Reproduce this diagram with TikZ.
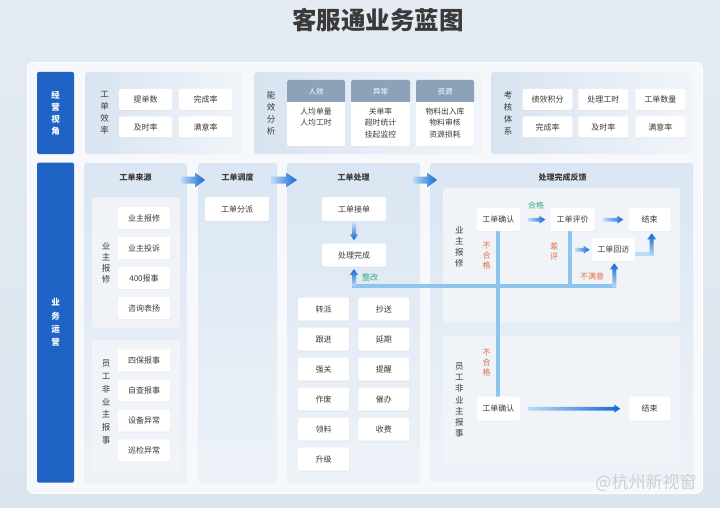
\documentclass[tikz,border=0pt]{standalone}
\usepackage{fontspec}
\setmainfont{Noto Sans CJK SC}
\usetikzlibrary{shadows,calc}
\definecolor{bgc}{HTML}{DCE5EE}
\definecolor{bgt}{HTML}{E4EBF2}
\definecolor{panel}{HTML}{F6F8FB}
\definecolor{hblue}{HTML}{1F64C4}
\definecolor{txt}{HTML}{3A3A3A}
\definecolor{pL}{HTML}{D8E3F1}
\definecolor{pR}{HTML}{F1F5FA}
\definecolor{colT}{HTML}{DAE6F3}
\definecolor{colB}{HTML}{EDF2F8}
\definecolor{subc}{HTML}{F0F4F9}
\definecolor{ghdr}{HTML}{8DA1B9}
\definecolor{okc}{HTML}{35A98A}
\definecolor{badc}{HTML}{E2703C}
\definecolor{conn}{HTML}{8FC4EE}
\definecolor{connL}{HTML}{BBDCF5}
\definecolor{arL}{HTML}{BBDCF6}
\definecolor{arD}{HTML}{1466D2}
\definecolor{wm}{HTML}{CFCFCF}

\newcommand\arrR[5]{%
 \shade[left color=arL, right color=arD] let \p1=#1, \p2=#2 in
 (\x1,\y1+#3) -- (\x2-#5,\y1+#3) -- (\x2-#5,\y1+#4) -- (\x2,\y1) -- (\x2-#5,\y1-#4) -- (\x2-#5,\y1-#3) -- (\x1,\y1-#3) -- cycle;}
\newcommand\arrU[5]{%
 \shade[bottom color=arL, top color=arD] let \p1=#1, \p2=#2 in
 (\x1-#3,\y1) -- (\x1-#3,\y2-#5) -- (\x1-#4,\y2-#5) -- (\x1,\y2) -- (\x1+#4,\y2-#5) -- (\x1+#3,\y2-#5) -- (\x1+#3,\y1) -- cycle;}
\newcommand\arrD[5]{%
 \shade[top color=arL, bottom color=arD] let \p1=#1, \p2=#2 in
 (\x1-#3,\y1) -- (\x1-#3,\y2+#5) -- (\x1-#4,\y2+#5) -- (\x1,\y2) -- (\x1+#4,\y2+#5) -- (\x1+#3,\y2+#5) -- (\x1+#3,\y1) -- cycle;}

\begin{document}
\begin{tikzpicture}[x=1pt,y=-1pt,
  sz/.style 2 args={minimum width=#1, minimum height=#2},
  wbox/.style={fill=white, rounded corners=2pt, text=txt, inner sep=0pt,
    font=\fontsize{8}{9.5}\selectfont,
    drop shadow={opacity=0.07, shadow xshift=0.4pt, shadow yshift=-0.8pt}},
  bluehdr/.style={fill=hblue, rounded corners=1.5pt, text=white, inner sep=0pt, align=center},
  vlab/.style={align=center, text=txt, inner sep=0pt},
  ctitle/.style={text=txt, font=\fontsize{8}{9.5}\selectfont\bfseries, inner sep=0pt},
  connline/.style={draw=conn, line width=4pt},
  ghead/.style={fill=ghdr},
]
\useasboundingbox (0,0) rectangle (720,508);
\shade[top color=bgt, bottom color=bgc] (0,0) rectangle (720,508);

% title
\node[text=txt, font=\fontsize{24.5}{28}\selectfont\bfseries, inner sep=0pt] (title) at (378,20) {客服通业务蓝图};

% white panel
\node[fill=panel, rounded corners=6pt, draw=white, line width=0.8pt, anchor=north west, sz={675pt}{431pt}] (main) at (27,62) {};

% ---------- top section ----------
\node[bluehdr, sz={37pt}{82pt}, font=\fontsize{8.5}{12}\selectfont\bfseries] (h1) at (55.5,113) {经\\营\\视\\角};

\shade[left color=pL, right color=pR, rounded corners=3pt] (85,72) rectangle (242,154);
\node[vlab, font=\fontsize{8.5}{12}\selectfont] (l1) at (104.7,113) {工\\单\\效\\率};
\node[wbox, sz={53pt}{21pt}] (tds) at (145.5,99.5) {提单数};
\node[wbox, sz={53pt}{21pt}] (wcl) at (205.5,99.5) {完成率};
\node[wbox, sz={53pt}{21pt}] (jsl) at (145.5,127) {及时率};
\node[wbox, sz={53pt}{21pt}] (myl) at (205.5,127) {满意率};

\shade[left color=pL, right color=pR, rounded corners=3pt] (254,72) rectangle (481,154);
\node[vlab, font=\fontsize{8.5}{12}\selectfont] (l2) at (271,113) {能\\效\\分\\析};
% sub cards
\foreach \cx/\w/\nm/\hd in {316/58/rx/人效, 380.5/59/yc/异常, 445/58/zy/资源}{
  \node[wbox, sz={\w pt}{66pt}, anchor=north] (\nm) at (\cx,80) {};
  \fill[ghead] (\cx-\w/2,102) [rounded corners=2pt] -- (\cx-\w/2,80) -- (\cx+\w/2,80) [sharp corners] -- (\cx+\w/2,102) -- cycle;
  \node[text=white, font=\fontsize{7.5}{9}\selectfont, inner sep=0pt] (\nm h) at (\cx,91.5) {\hd};
}
\node[vlab, font=\fontsize{7.8}{11.5}\selectfont, anchor=north] (rxt) at (316,107.5) {人均单量\\人均工时};
\node[vlab, font=\fontsize{7.8}{11.5}\selectfont, anchor=north] (yct) at (380.5,107.5) {关单率\\超时统计\\挂起监控};
\node[vlab, font=\fontsize{7.8}{11.5}\selectfont, anchor=north] (zyt) at (445,107.5) {物料出入库\\物料审核\\资源损耗};

\shade[left color=pL, right color=pR, rounded corners=3pt] (491,72) rectangle (692,154);
\node[vlab, font=\fontsize{8.5}{12}\selectfont] (l3) at (508,113) {考\\核\\体\\系};
\node[wbox, sz={50pt}{21pt}] (jxjf) at (547.5,99.5) {绩效积分};
\node[wbox, sz={50pt}{21pt}] (clgs) at (603.3,99.5) {处理工时};
\node[wbox, sz={50pt}{21pt}] (gdsl) at (660.3,99.5) {工单数量};
\node[wbox, sz={50pt}{21pt}] (wcl2) at (547.5,127) {完成率};
\node[wbox, sz={50pt}{21pt}] (jsl2) at (603.3,127) {及时率};
\node[wbox, sz={50pt}{21pt}] (myl2) at (660.3,127) {满意率};

% ---------- bottom section ----------
\node[bluehdr, sz={37pt}{320pt}, font=\fontsize{8.5}{13.3}\selectfont\bfseries] (h2) at (55.5,322.7) {业\\务\\运\\营};

% columns
\shade[top color=colT, bottom color=colB, rounded corners=3pt] (84,163) rectangle (187,483);
\shade[top color=colT, bottom color=colB, rounded corners=3pt] (198,163) rectangle (277,483);
\shade[top color=colT, bottom color=colB, rounded corners=3pt] (287,163) rectangle (420,483);
\shade[top color=colT, bottom color=colB, rounded corners=3pt] (430,163) rectangle (693,482);

\node[ctitle] (t1) at (135.5,177) {工单来源};
\node[ctitle] (t2) at (237.5,177) {工单调度};
\node[ctitle] (t3) at (353.5,177) {工单处理};
\node[ctitle] (t4) at (562.7,177) {处理完成反馈};

% column 1
\fill[subc, rounded corners=3pt] (92,197) rectangle (180,328);
\node[vlab, font=\fontsize{8.5}{11}\selectfont] (l4) at (106,263) {业\\主\\报\\修};
\node[wbox, sz={52pt}{22pt}] (s1) at (144,218) {业主报修};
\node[wbox, sz={52pt}{22pt}] (s2) at (144,248) {业主投诉};
\node[wbox, sz={52pt}{22pt}] (s3) at (144,278) {400报事};
\node[wbox, sz={52pt}{22pt}] (s4) at (144,308) {咨询表扬};

\fill[subc, rounded corners=3pt] (92,340) rectangle (180,472);
\node[vlab, font=\fontsize{8.5}{12.8}\selectfont] (l5) at (106,402) {员\\工\\非\\业\\主\\报\\事};
\node[wbox, sz={52pt}{22pt}] (s5) at (144,360.5) {四保报事};
\node[wbox, sz={52pt}{22pt}] (s6) at (144,390.5) {自查报事};
\node[wbox, sz={52pt}{22pt}] (s7) at (144,420.5) {设备异常};
\node[wbox, sz={52pt}{22pt}] (s8) at (144,450.5) {巡检异常};

% column 2
\node[wbox, sz={64pt}{24pt}] (fp) at (237,209) {工单分派};

% column 3
\node[wbox, sz={64pt}{24pt}] (jd) at (354,209) {工单接单};
\node[wbox, sz={64pt}{23pt}] (wc) at (354,255) {处理完成};
\foreach \r/\a/\b in {309.2/转派/抄送, 339.2/跟进/延期, 369.2/强关/提醒, 399.2/作废/催办, 429.2/领料/收费}{
  \node[wbox, sz={51pt}{23pt}] (g\a) at (323.7,\r) {\a};
  \node[wbox, sz={51pt}{23pt}] (g\b) at (383.8,\r) {\b};
}
\node[wbox, sz={51pt}{23pt}] (gsj) at (323.7,459.2) {升级};

% column 4
\fill[subc, rounded corners=3pt] (443,188) rectangle (680,322);
\fill[subc, rounded corners=3pt] (443,336) rectangle (680,463);
\node[vlab, font=\fontsize{8.5}{11.1}\selectfont] (l6) at (459.3,246.7) {业\\主\\报\\修};
\node[vlab, font=\fontsize{8.5}{11.1}\selectfont] (l7) at (459.3,400) {员\\工\\非\\业\\主\\报\\事};

% connectors (light lines first)
\coordinate (hL) at (354,286);
\coordinate (hR) at (614.3,286);
\draw[connline] (498.3,230) -- (498.3,398);
\draw[connline] (570,230) -- (570,288);
\draw[connline] (352,286) -- (616.3,286);
\draw[draw=connL, line width=4pt] (634,254) -- (653.7,254);

\node[wbox, sz={43pt}{23pt}] (qr1) at (498.3,219.7) {工单确认};
\node[wbox, sz={44pt}{23pt}] (pj) at (572.5,219.7) {工单评价};
\node[wbox, sz={42pt}{23pt}] (js1) at (649.5,219.7) {结束};
\node[wbox, sz={43pt}{23pt}] (hf) at (613.3,249.7) {工单回访};
\node[wbox, sz={43pt}{24pt}] (qr2) at (498.3,408.7) {工单确认};
\node[wbox, sz={42pt}{24pt}] (js2) at (649.5,408.7) {结束};

% labels
\node[text=okc, font=\fontsize{8}{9}\selectfont, inner sep=0pt] (hg) at (536,205.5) {合格};
\node[text=okc, font=\fontsize{8}{9}\selectfont, inner sep=0pt] (zg) at (370,277) {整改};
\node[text=badc, font=\fontsize{8}{9}\selectfont, inner sep=0pt] (bmy) at (592,276) {不满意};
\node[vlab, text=badc, font=\fontsize{8}{10}\selectfont] (cp) at (554,251.5) {差\\评};
\node[vlab, text=badc, font=\fontsize{8}{10}\selectfont] (bhg1) at (486.7,256) {不\\合\\格};
\node[vlab, text=badc, font=\fontsize{8}{10}\selectfont] (bhg2) at (486.7,362.5) {不\\合\\格};

% gradient arrows
\arrR{(181,180)}{(205,180)}{3.5pt}{7.5pt}{10pt}
\arrR{(271,180)}{(297,180)}{3.5pt}{7.5pt}{11pt}
\arrR{(413,180)}{(437,180)}{3.5pt}{7.5pt}{10pt}
\arrD{($(jd.south)+(0,2)$)}{($(wc.north)+(0,-3)$)}{2pt}{4pt}{6pt}
\arrU{(hL)}{($(wc.south)+(0,2.5)$)}{2pt}{4.5pt}{6pt}
\arrR{($(qr1.east)+(8,0)$)}{($(pj.west)+(-5,0)$)}{1.8pt}{4pt}{6pt}
\arrR{($(pj.east)+(9,0)$)}{($(js1.west)+(-5,0)$)}{1.8pt}{4pt}{6pt}
\arrR{(575,249.7)}{($(hf.west)+(-2,0)$)}{1.8pt}{4pt}{6pt}
\arrU{(614.3,287)}{($(hf.south)+(0,2)$)}{2pt}{4.5pt}{6pt}
\arrU{(651.7,256)}{($(js1.south)+(2.2,2)$)}{2pt}{4.5pt}{6pt}
\arrR{($(qr2.east)+(8,0)$)}{($(js2.west)+(-8,0)$)}{1.8pt}{4pt}{6pt}

% watermark
\node[text=wm, font=\fontsize{17}{20}\selectfont, inner sep=0pt] (wmk) at (646,483) {@杭州新视窗};
\end{tikzpicture}
\end{document}
